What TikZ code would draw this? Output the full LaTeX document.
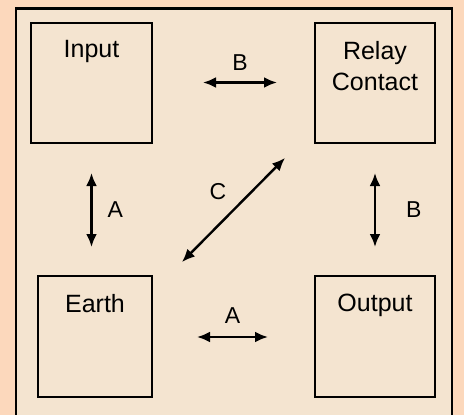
\documentclass[tikz,border=0pt]{standalone}
\usepackage{fontspec}
\setmainfont{Liberation Sans}
\usetikzlibrary{arrows.meta,positioning}
\definecolor{peach}{RGB}{252,216,188}
\definecolor{panel}{RGB}{244,228,208}
\tikzset{
  box/.style={draw, line width=2.3pt, inner sep=0pt},
  boxtext/.style={inner sep=0pt, font=\fontsize{25}{31}\selectfont, align=center},
  link/.style={arrows={Latex[length=13pt,width=11pt]-Latex[length=13pt,width=11pt]}, line width=2.4pt},
  tag/.style={inner sep=0pt, font=\fontsize{23}{26}\selectfont}
}

\begin{document}
\begin{tikzpicture}[x=1pt,y=-1pt]
\useasboundingbox (0,0) rectangle (464,415);
\clip (0,0) rectangle (464,415);
\fill[peach] (0,0) rectangle (464,415);
\draw[line width=2.3pt, fill=panel] (16,8.5) rectangle (452,430);
% the four blocks
\node[box, minimum width=121pt, minimum height=120pt] (in) at (91.5,83) {};
\node[box, minimum width=120pt, minimum height=120pt] (rc) at (375,83) {};
\node[box, minimum width=114pt, minimum height=121pt] (ea) at (95,336.5) {};
\node[box, minimum width=120pt, minimum height=121pt] (op) at (375,336.5) {};
\node[boxtext, below=18.5pt of in.north] (inlab) {Input};
\node[boxtext, below=19pt of rc.north] (rclab) {Relay\\Contact};
\node[boxtext, below=19pt of ea.north] (ealab) {Earth};
\node[boxtext, below=19pt of op.north] (oplab) {Output};
% insulation paths
\coordinate (b1) at (203,82.5);
\coordinate (b2) at (277,82.5);
\coordinate (a1) at (91.5,173);
\coordinate (a2) at (91.5,247);
\coordinate (b3) at (375,173);
\coordinate (b4) at (375,247);
\coordinate (a3) at (197,337);
\coordinate (a4) at (268,337);
\coordinate (c1) at (285,158);
\coordinate (c2) at (182,262);
\draw[link] (b1) -- (b2) node[tag, midway, above=11pt] (lbtop) {B};
\draw[link] (a1) -- (a2) node[tag, midway, right=15pt] (laleft) {A};
\draw[link] (b3) -- (b4) node[tag, midway, right=30pt] (lbright) {B};
\draw[link] (a3) -- (a4) node[tag, midway, above=12pt] (labot) {A};
\draw[link] (c1) -- (c2);
\node[tag] (lc) at (218,192) {C};
\end{tikzpicture}
\end{document}
